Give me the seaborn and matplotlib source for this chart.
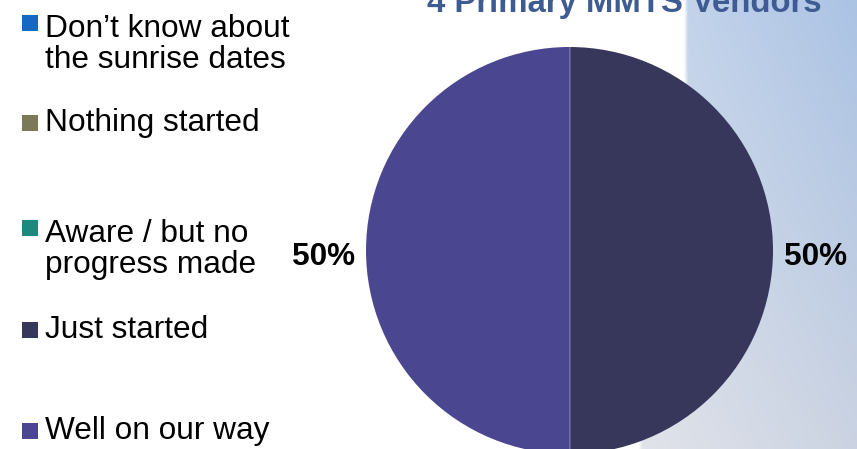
import numpy as np
import matplotlib
matplotlib.use("Agg")
import matplotlib.pyplot as plt
from matplotlib.patches import Rectangle
import seaborn as sns

# Survey status of the primary MMTS vendors
categories = [
    "Don’t know about\nthe sunrise dates",
    "Nothing started",
    "Aware / but no\nprogress made",
    "Just started",
    "Well on our way",
]
vendor_counts = [0, 0, 0, 2, 2]
category_colors = ["#1569c2", "#7a7a58", "#1b8a7c", "#36375a", "#4b4690"]
title_text = "4 Primary MMTS Vendors"

sns.set_theme(style="white")
plt.rcParams["font.family"] = ["Liberation Sans", "DejaVu Sans"]
palette = sns.color_palette(category_colors)

W, H = 857, 449
fig = plt.figure(figsize=(W / 100, H / 100), dpi=100)
fig.patch.set_facecolor("white")

# Soft sky-blue backdrop on the right side
bg_left = 630
bg_ax = fig.add_axes([bg_left / W, 0, 1 - bg_left / W, 1], zorder=0)
nx, ny = 230, 449
xs = np.linspace(0, 1, nx)[None, :]
ys = np.linspace(0, 1, ny)[:, None]
tl = np.array([0xca, 0xd8, 0xed]) / 255
tr = np.array([0xab, 0xc3, 0xe4]) / 255
bl = np.array([0xe2, 0xe4, 0xea]) / 255
br = np.array([0xcb, 0xd3, 0xe2]) / 255
img = ((1 - xs)[..., None] * (1 - ys)[..., None] * tl
       + xs[..., None] * (1 - ys)[..., None] * tr
       + (1 - xs)[..., None] * ys[..., None] * bl
       + xs[..., None] * ys[..., None] * br)
px = bg_left + xs * (W - bg_left)
py = ys * H
edge = np.where(py < 330, 686, 640)
alpha = np.clip((px - edge) / 4 + 0.5, 0, 1)
rgba = np.concatenate([img, alpha[..., None]], axis=2)
bg_ax.imshow(rgba, aspect="auto", extent=[0, 1, 0, 1], origin="upper")
bg_ax.set_axis_off()

# Pie
cx, cy, r = 569.5, 250.5, 203.5
ax = fig.add_axes([(cx - r) / W, (H - cy - r) / H, 2 * r / W, 2 * r / H], zorder=1)
ax.set_facecolor("none")
wedges, _, autotexts = ax.pie(
    vendor_counts,
    colors=palette,
    startangle=90,
    counterclock=False,
    autopct=lambda p: f"{p:.0f}%" if p > 0 else "",
    pctdistance=1.21,
    wedgeprops=dict(linewidth=0),
    textprops=dict(fontsize=22.7, fontweight="bold", color="black"),
)
# faint divider between the two halves
ax.axvline(0, ymin=0, ymax=1, color="#5a5a8c", linewidth=0.8, zorder=3)
for t in autotexts:
    t.set_clip_on(False)
    x0, y0 = t.get_position()
    t.set_position((x0, y0 - 0.03))
ax.set_xlim(-1, 1)
ax.set_ylim(-1, 1)
ax.set_aspect("equal")

# Title
fig.text(624.5 / W, (H - 12) / H, title_text, ha="center", va="baseline",
         fontsize=23.7, fontweight="bold", color="#3e5b92", zorder=3)

# Legend: square swatch beside each (possibly two-line) label
first_baselines = [31, 131, 236, 338, 439]
last_baselines = [68, 131, 273, 338, 439]
for label, color, b0, b1 in zip(categories, palette, first_baselines, last_baselines):
    fig.patches.append(Rectangle((22 / W, (H - b0) / H), 16 / W, 16 / H,
                                 transform=fig.transFigure, facecolor=color,
                                 edgecolor="none", zorder=3))
    fig.text(45 / W, (H - b1) / H, label, ha="left", va="baseline",
             fontsize=22.8, color="black", linespacing=1.06, zorder=3)

fig.savefig("out.png", dpi=100)
